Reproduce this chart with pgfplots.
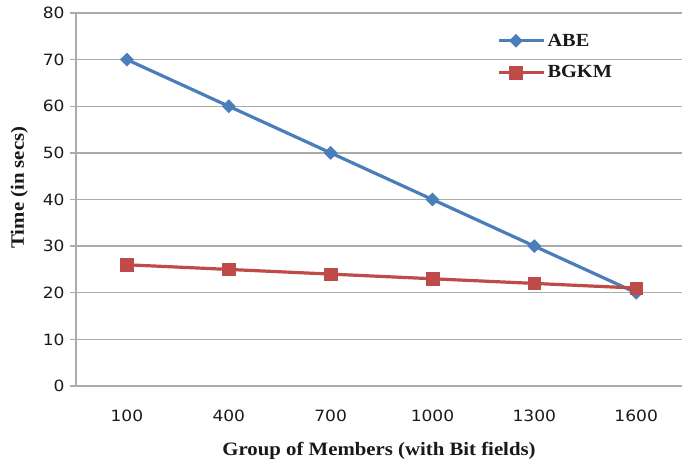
\documentclass[border=0pt]{standalone}
\usepackage{fontspec}
\setmainfont{Liberation Serif}[FakeStretch=1.1]
\newfontfamily\tickfont{DejaVu Sans}[FakeStretch=1.1]
\usepackage{pgfplots}
\pgfplotsset{compat=1.18}
\definecolor{abe}{HTML}{4A7EBB}
\definecolor{bgkm}{HTML}{BE4B48}
\definecolor{gridc}{HTML}{ABABAB}
\begin{document}
\begin{tikzpicture}
\begin{axis}[
  at={(0pt,0pt)}, anchor=south west,
  scale only axis, width=606pt, height=373pt,
  xmin=-0.5, xmax=5.45, ymin=0, ymax=80,
  axis x line*=bottom, axis y line*=left,
  axis line style={gridc, line width=1.4pt},
  ytick={0,10,...,80},
  /pgf/number format/assume math mode=true,
  ymajorgrids, major grid style={gridc, line width=1.4pt},
  xtick={0,...,5},
  xticklabels={100,400,700,1000,1300,1600},
  major x tick style={draw=none},
  extra x ticks={-0.5,0.5,1.5,2.5,3.5,4.5},
  extra x tick labels={},
  extra x tick style={major tick length=6pt, tick style={gridc, line width=1.4pt}, xmajorgrids=false},
  tick align=outside,
  major tick length=6pt,
  tick style={gridc, line width=1.4pt},
  every tick label/.append style={font=\tickfont\fontsize{15.5}{18}\selectfont, text=black!90},
  xticklabel style={yshift=-14pt},
  yticklabel style={xshift=-2pt},
  xlabel={\bfseries Group of Members (with Bit fields)},
  ylabel={\bfseries Time (in secs)},
  label style={font=\fontsize{18.9}{22}\selectfont, text=black!90},
  xlabel style={yshift=-2pt},
  ylabel style={at={(ticklabel cs:0.532)}, yshift=8pt},
  legend style={at={(0.69,0.955)}, anchor=north west, draw=none, fill=none,
    font=\bfseries\fontsize{18.5}{22}\selectfont, row sep=14pt,
    nodes={inner sep=2pt, text=black!90}},
  legend cell align=left,
  legend image code/.code={\draw[mark repeat=2,mark phase=2,#1] plot coordinates {(0pt,0pt) (17pt,0pt) (34pt,0pt)}; \path (34pt,0pt) -- (45pt,0pt);},
  clip=false,
]
\addplot[abe, line width=3.2pt, mark=square*, mark size=4.6pt, mark options={solid, rotate=45, line width=0.5pt}]
  coordinates {(0,70) (1,60) (2,50) (3,40) (4,30) (5,20)};
\addlegendentry{ABE}
\addplot[bgkm, line width=3.2pt, mark=square*, mark size=6.3pt, mark options={solid, line width=0.5pt}]
  coordinates {(0,26) (1,25) (2,24) (3,23) (4,22) (5,21)};
\addlegendentry{BGKM}
\end{axis}
\pgfresetboundingbox
\path[use as bounding box] (-76pt,-77pt) rectangle (606pt,386pt);
\end{tikzpicture}
\end{document}
